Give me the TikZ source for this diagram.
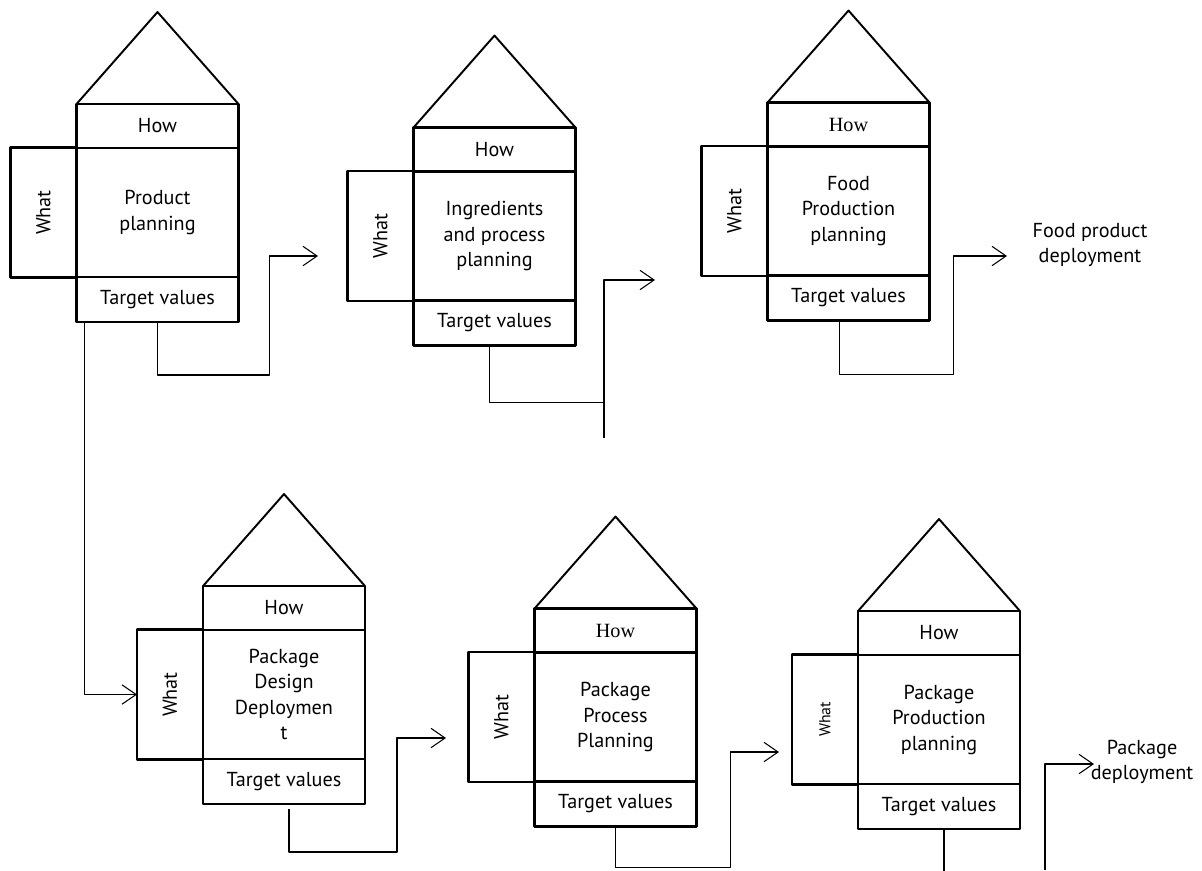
\documentclass[tikz,border=0pt]{standalone}
\usepackage{fontspec}
\setmainfont{PT Sans}
\newfontfamily\howfont{Liberation Serif}
\usetikzlibrary{positioning,arrows.meta}

\begin{document}
\begin{tikzpicture}[x=0.02cm,y=-0.02cm,line join=round,
  font=\fontsize{11.5}{14.5}\selectfont,
  box/.style={draw,line width=1.2pt,outer sep=0pt,inner sep=1pt},
  hall/.style={box,minimum width=3.24cm,minimum height=2.58cm,align=center},
  roofbox/.style={box,minimum width=3.24cm,minimum height=0.88cm},
  wing/.style={box,minimum width=1.32cm,minimum height=2.6cm},
  base/.style={box,minimum width=3.24cm,minimum height=0.9cm},
  roof/.style={line width=1.1pt},
  link/.style={line width=0.6pt},
  flow/.style={link,-{Straight Barb[length=8pt,width=11pt]}}]
  \useasboundingbox (0,0) rectangle (1202,870);
  % top row
  \node[hall] (main1) at (157.5,212.5) {Product\\planning};
  \node[roofbox,above=0pt of main1] (how1) {How};
  \node[wing,left=0pt of main1] (what1) {\rotatebox{90}{What}};
  \node[base,below=0pt of main1] (tv1) {Target values};
  \draw[roof] (how1.north west) -- ([yshift=1.84cm]how1.north) -- (how1.north east);
  \node[hall] (main2) at (494.5,236) {Ingredients\\and process\\planning};
  \node[roofbox,above=0pt of main2] (how2) {How};
  \node[wing,left=0pt of main2] (what2) {\rotatebox{90}{What}};
  \node[base,below=0pt of main2] (tv2) {Target values};
  \draw[roof] (how2.north west) -- ([yshift=1.84cm]how2.north) -- (how2.north east);
  \node[hall] (main3) at (848.5,211) {Food\\Production\\planning};
  \node[roofbox,above=0pt of main3] (how3) {\howfont How};
  \node[wing,left=0pt of main3] (what3) {\rotatebox{90}{What}};
  \node[base,below=0pt of main3] (tv3) {Target values};
  \draw[roof] (how3.north west) -- ([yshift=1.84cm]how3.north) -- (how3.north east);
  \node[align=center] (fpd) at (1090,245) {Food product\\deployment};
  % bottom row
  \node[hall] (main4) at (284,694.5) {Package\\Design\\Deploymen\\t};
  \node[roofbox,above=0pt of main4] (how4) {How};
  \node[wing,left=0pt of main4] (what4) {\rotatebox{90}{What}};
  \node[base,below=0pt of main4] (tv4) {Target values};
  \draw[roof] (how4.north west) -- ([yshift=1.84cm]how4.north) -- (how4.north east);
  \node[hall] (main5) at (615.5,717) {Package\\Process\\Planning};
  \node[roofbox,above=0pt of main5] (how5) {\howfont How};
  \node[wing,left=0pt of main5] (what5) {\rotatebox{90}{What}};
  \node[base,below=0pt of main5] (tv5) {Target values};
  \draw[roof] (how5.north west) -- ([yshift=1.84cm]how5.north) -- (how5.north east);
  \node[hall] (main6) at (939,719.5) {Package\\Production\\planning};
  \node[roofbox,above=0pt of main6] (how6) {How};
  \node[wing,left=0pt of main6,font=\fontsize{9}{11}\selectfont] (what6) {\rotatebox{90}{What}};
  \node[base,below=0pt of main6] (tv6) {Target values};
  \draw[roof] (how6.north west) -- ([yshift=1.84cm]how6.north) -- (how6.north east);
  \node[align=center] (pd) at (1142,762) {Package\\deployment};
  % connectors
  \coordinate (a1) at (318,256);
  \coordinate (b2) at (604,438);
  \coordinate (a2) at (655,280);
  \coordinate (a3) at (1007,256);
  \coordinate (a4) at (446,738);
  \coordinate (a5) at (779,752);
  \coordinate (b6) at (1045,870);
  \coordinate (a6) at (1094,764);
  \draw[flow] ([xshift=0.16cm]tv1.south west) |- (what4);
  \draw[flow] (tv1.south) -- ++(0,53) -- ++(112,0) |- (a1);
  \draw[link] ([xshift=-0.1cm]tv2.south) -- ++(0,57) -- ++(115,0);
  \draw[flow] (b2) |- (a2);
  \draw[flow] ([xshift=-0.18cm]tv3.south) -- ++(0,54) -- ++(114,0) |- (a3);
  \draw[flow] ([xshift=0.1cm,yshift=-0.1cm]tv4.south) -- ++(0,43) -- ++(108,0) |- (a4);
  \draw[flow] (tv5.south) -- ++(0,41) -- ++(115,0) |- (a5);
  \draw[link] ([xshift=0.1cm]tv6.south) -- ++(0,42);
  \draw[flow] (b6) |- (a6);
\end{tikzpicture}
\end{document}
